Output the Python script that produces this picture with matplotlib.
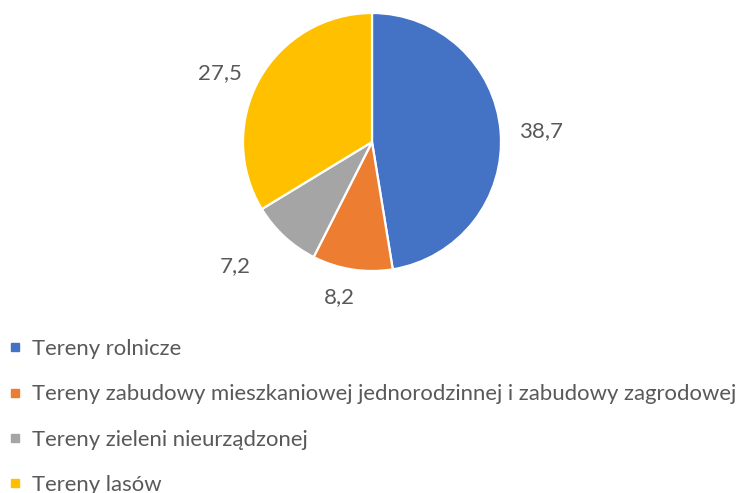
import numpy as np
import matplotlib.pyplot as plt
from matplotlib.lines import Line2D

# data
categories = ['Tereny rolnicze',
              'Tereny zabudowy mieszkaniowej jednorodzinnej i zabudowy zagrodowej',
              'Tereny zieleni nieurządzonej',
              'Tereny lasów']
values = [38.7, 8.2, 7.2, 27.5]
value_labels = ['38,7', '8,2', '7,2', '27,5']
colors = ['#4472C4', '#ED7D31', '#A5A5A5', '#FFC000']

# label placement (distance in radii, angular nudge in degrees)
label_dist = [1.31, 1.23, 1.43, 1.29]
label_nudge = [-1, -3, -5, 5]

plt.rcParams['font.family'] = ['Lato', 'DejaVu Sans']
text_color = '#595959'

W, H = 754, 493
fig = plt.figure(figsize=(W / 100, H / 100), dpi=100)

# pie axes: centre (372, 142) px, radius 129 px
cx, cy, r = 372, 142, 129
ax = fig.add_axes([(cx - r) / W, 1 - (cy + r) / H, 2 * r / W, 2 * r / H])
wedges, texts = ax.pie(values, labels=value_labels, colors=colors,
                       startangle=90, counterclock=False, radius=1,
                       wedgeprops=dict(edgecolor='white', linewidth=1.6),
                       textprops=dict(color=text_color, fontsize=16))
# place the value labels outside each slice like Excel's best fit
for w, t, d, n in zip(wedges, texts, label_dist, label_nudge):
    ang = np.deg2rad((w.theta1 + w.theta2) / 2 + n)
    t.set_position((d * np.cos(ang), d * np.sin(ang)))
    t.set_horizontalalignment('center')
    t.set_verticalalignment('center')
ax.set_xlim(-1, 1)
ax.set_ylim(-1, 1)
ax.set_aspect('equal')

# legend
handles = [Line2D([], [], marker='s', linestyle='none', markersize=5.5,
                  markerfacecolor=c, markeredgecolor=c) for c in colors]
fig.legend(handles, categories, loc='upper left',
           bbox_to_anchor=(7 / W, 1 - 339 / H), frameon=False,
           borderaxespad=0, borderpad=0, handlelength=0.7,
           handletextpad=0.45, labelspacing=1.15,
           fontsize=15.9, labelcolor=text_color)

fig.savefig('out.png', dpi=100)
